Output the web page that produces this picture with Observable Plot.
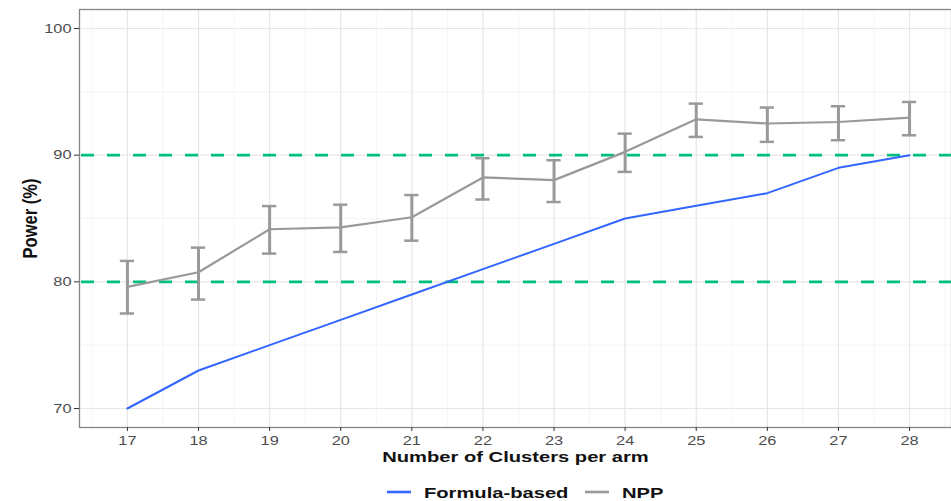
<!DOCTYPE html>
<html>
<head>
<meta charset="utf-8">
<script src="https://cdn.jsdelivr.net/npm/d3@7"></script>
<script src="https://cdn.jsdelivr.net/npm/@observablehq/plot@0.6"></script>
<style>
  html, body { margin: 0; padding: 0; background: #fff; }
  body { width: 951px; height: 501px; overflow: hidden; font-family: "Liberation Sans", Arial, sans-serif; }
  #legend { display: block; }
</style>
</head>
<body>
<div id="chart"></div>
<svg id="legend" width="951" height="31"></svg>
<script>
const clusters = [17, 18, 19, 20, 21, 22, 23, 24, 25, 26, 27, 28];
const formulaPower = [70, 73, 75, 77, 79, 81, 83, 85, 86, 87, 89, 90];
const nppPower = [79.6, 80.76, 84.15, 84.3, 85.1, 88.24, 88.03, 90.26, 92.83, 92.5, 92.62, 92.97];
const nppLower = [77.5, 78.6, 82.23, 82.36, 83.25, 86.5, 86.3, 88.68, 91.44, 91.05, 91.18, 91.57];
const nppUpper = [81.65, 82.7, 85.98, 86.09, 86.85, 89.76, 89.6, 91.7, 94.07, 93.76, 93.86, 94.2];
const yTicks = [70, 80, 90, 100];
const yMinor = [75, 85, 95];
const thresholds = [80, 90];
const seriesNames = ["Formula-based", "NPP"];
const seriesColors = ["#3366ff", "#999999"];

const formula = clusters.map((c, i) => ({x: c, y: formulaPower[i]}));
const npp = clusters.map((c, i) => ({x: c, y: nppPower[i], lo: nppLower[i], hi: nppUpper[i]}));
const xMinor = clusters.map(c => c - 0.5).concat([clusters[clusters.length - 1] + 0.5]);
const capHalf = 0.1;
const STRETCH = 1.26;      // reference text is horizontally widened
const STRETCH_BOLD = 1.3;

const plot = Plot.plot({
  width: 951,
  height: 470,
  marginLeft: 79,
  marginRight: 0,
  marginTop: 9,
  marginBottom: 43,
  style: {fontFamily: "Liberation Sans, Arial, sans-serif", fontSize: "13px", background: "#fff"},
  x: {domain: [16.326, 28.59]},
  y: {domain: [68.5, 101.5]},
  marks: [
    Plot.ruleX(xMinor, {stroke: "#f2f2f2", strokeWidth: 0.8}),
    Plot.ruleY(yMinor, {stroke: "#f2f2f2", strokeWidth: 0.8}),
    Plot.ruleX(clusters, {stroke: "#e6e6e6", strokeWidth: 1.2}),
    Plot.ruleY(yTicks, {stroke: "#e6e6e6", strokeWidth: 1.2}),
    Plot.ruleY(thresholds, {stroke: "#00bf7a", strokeWidth: 2.6, strokeDasharray: "13,13", strokeDashoffset: -2}),
    Plot.line(formula, {x: "x", y: "y", stroke: seriesColors[0], strokeWidth: 2}),
    Plot.line(npp, {x: "x", y: "y", stroke: seriesColors[1], strokeWidth: 2.2}),
    Plot.ruleX(npp, {x: "x", y1: "lo", y2: "hi", stroke: seriesColors[1], strokeWidth: 3}),
    Plot.ruleY(npp, {x1: d => d.x - capHalf, x2: d => d.x + capHalf, y: "hi", stroke: seriesColors[1], strokeWidth: 2.5}),
    Plot.ruleY(npp, {x1: d => d.x - capHalf, x2: d => d.x + capHalf, y: "lo", stroke: seriesColors[1], strokeWidth: 2.5}),
    Plot.frame({stroke: "#858585", strokeWidth: 1.3}),
    Plot.axisX(clusters, {tickSize: 4, tickPadding: 4, stroke: "#333", color: "#4d4d4d", fontSize: 13, tickFormat: d => String(d),
      label: "Number of Clusters per arm", labelAnchor: "center", labelOffset: 34, labelArrow: "none"}),
    Plot.axisY(yTicks, {tickSize: 5, tickPadding: 3, stroke: "#333", color: "#4d4d4d", fontSize: 13,
      label: "Power (%)", labelAnchor: "center", labelOffset: 57, labelArrow: "none"})
  ]
});
document.getElementById("chart").appendChild(plot);

function stretch(sel, f) {
  sel.each(function() {
    const len = this.getComputedTextLength();
    if (len > 0) {
      this.setAttribute("textLength", (len * f).toFixed(1));
      this.setAttribute("lengthAdjust", "spacingAndGlyphs");
    }
  });
}

const svg = d3.select(plot);
svg.selectAll("[aria-label='x-axis label'] text")
  .attr("font-weight", "bold").attr("fill", "#111").attr("font-size", 15.5);
stretch(svg.selectAll("[aria-label='x-axis tick label'] text, [aria-label='y-axis tick label'] text"), STRETCH);
stretch(svg.selectAll("[aria-label='x-axis label'] text"), STRETCH_BOLD);

// rotated y title: image is widened horizontally, i.e. across the glyphs' height
svg.selectAll("[aria-label='y-axis label'] text")
  .attr("font-weight", "bold").attr("fill", "#111").attr("font-size", 16.5)
  .each(function() {
    const len = this.getComputedTextLength();
    this.setAttribute("font-size", 16.5 * STRETCH);
    this.setAttribute("textLength", len.toFixed(1));
    this.setAttribute("lengthAdjust", "spacingAndGlyphs");
  });

// Legend below the plot
const leg = d3.select("#legend");
const lx = d3.scaleOrdinal().domain(seriesNames).range([387, 585]);
seriesNames.forEach((n, i) => {
  const x0 = lx(n);
  leg.append("line").attr("x1", x0).attr("x2", x0 + 24).attr("y1", 22).attr("y2", 22)
    .attr("stroke", seriesColors[i]).attr("stroke-width", 2.6);
  const t = leg.append("text").attr("x", x0 + 37).attr("y", 27.5)
    .attr("font-family", "Liberation Sans, Arial, sans-serif").attr("font-weight", "bold")
    .attr("font-size", 15.5).attr("fill", "#111").text(n);
  stretch(t, STRETCH_BOLD);
});
</script>
</body>
</html>
